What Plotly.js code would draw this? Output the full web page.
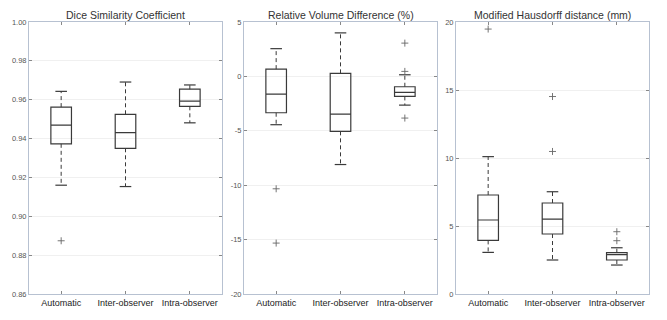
<!DOCTYPE html>
<html><head><meta charset="utf-8">
<script src="https://cdn.plot.ly/plotly-3.0.1.min.js"></script>
<style>html,body{margin:0;padding:0;background:#fff}#chart{width:667px;height:320px}</style>
</head><body><div id="chart"></div>
<script>
const categories = ['Automatic', 'Inter-observer', 'Intra-observer'];
const panelTitles = ['Dice Similarity Coefficient', 'Relative Volume Difference (%)', 'Modified Hausdorff distance (mm)'];

// Dice Similarity Coefficient
const diceLower  = [0.9160, 0.9153, 0.9481];
const diceQ1     = [0.9373, 0.9350, 0.9566];
const diceMedian = [0.9469, 0.9431, 0.9593];
const diceQ3     = [0.9562, 0.9525, 0.9654];
const diceUpper  = [0.9643, 0.9691, 0.9676];
const diceOutliers = [[0.8874], [], []];
const diceTicks = [0.86, 0.88, 0.90, 0.92, 0.94, 0.96, 0.98, 1.00];

// Relative Volume Difference (%)
const rvdLower  = [-4.44, -8.10, -2.64];
const rvdQ1     = [-3.34, -5.05, -1.84];
const rvdMedian = [-1.63, -3.46, -1.47];
const rvdQ3     = [0.67, 0.28, -0.95];
const rvdUpper  = [2.55, 4.00, 0.15];
const rvdOutliers = [[-10.33, -15.32], [], [3.06, 0.46, -3.83]];
const rvdTicks = [-20, -15, -10, -5, 0, 5];
const rvdTickText = ['-20', '-15', '-10', '-5', '0', '5'];

// Modified Hausdorff distance (mm)
const mhdLower  = [3.06, 2.50, 2.13];
const mhdQ1     = [3.94, 4.41, 2.50];
const mhdMedian = [5.44, 5.51, 2.90];
const mhdQ3     = [7.28, 6.69, 3.04];
const mhdUpper  = [10.10, 7.52, 3.40];
const mhdOutliers = [[19.48], [14.52, 10.48], [4.58, 3.92]];
const mhdTicks = [0, 5, 10, 15, 20];

const panels = [
  {lower: diceLower, q1: diceQ1, med: diceMedian, q3: diceQ3, upper: diceUpper, out: diceOutliers,
   range: [0.86, 1.00], tickvals: diceTicks, ticktext: diceTicks.map(v => v.toFixed(2))},
  {lower: rvdLower, q1: rvdQ1, med: rvdMedian, q3: rvdQ3, upper: rvdUpper, out: rvdOutliers,
   range: [-20, 5], tickvals: rvdTicks, ticktext: rvdTickText},
  {lower: mhdLower, q1: mhdQ1, med: mhdMedian, q3: mhdQ3, upper: mhdUpper, out: mhdOutliers,
   range: [0, 20], tickvals: mhdTicks, ticktext: mhdTicks.map(String)}
];

const xDomains = [[29/667, 222/667], [244/667, 437/667], [456/667, 649/667]];
const yDomain = [1 - 294/320, 1 - 22/320];
const lineCol = '#3a3a3a';
const boxWidth = 0.32;
const capHalf = 0.09;
const traces = [];
const layout = {
  width: 667, height: 320,
  margin: {l: 0, r: 0, t: 0, b: 0},
  paper_bgcolor: '#fff', plot_bgcolor: '#fff',
  showlegend: false,
  font: {family: 'Liberation Sans, Arial, sans-serif', color: '#333'},
  annotations: []
};

panels.forEach((p, i) => {
  const sx = i === 0 ? '' : String(i + 1);
  const xa = 'x' + sx, ya = 'y' + sx;
  const xs = categories.map((c, k) => k + 1);
  traces.push({
    type: 'box', xaxis: xa, yaxis: ya,
    x: xs, q1: p.q1, median: p.med, q3: p.q3,
    lowerfence: p.q1, upperfence: p.q3,
    width: boxWidth, boxpoints: false,
    line: {color: lineCol, width: 1.2}, fillcolor: 'rgba(0,0,0,0)',
    hoverinfo: 'skip'
  });
  const wx = [], wy = [];
  xs.forEach((x, k) => {
    wx.push(x, x, null, x, x, null);
    wy.push(p.q3[k], p.upper[k], null, p.q1[k], p.lower[k], null);
  });
  traces.push({type: 'scatter', mode: 'lines', xaxis: xa, yaxis: ya, x: wx, y: wy,
    line: {color: lineCol, width: 1, dash: '4px,3px'}, hoverinfo: 'skip'});
  const cx = [], cy = [];
  xs.forEach((x, k) => {
    cx.push(x - capHalf, x + capHalf, null, x - capHalf, x + capHalf, null);
    cy.push(p.upper[k], p.upper[k], null, p.lower[k], p.lower[k], null);
  });
  traces.push({type: 'scatter', mode: 'lines', xaxis: xa, yaxis: ya, x: cx, y: cy,
    line: {color: lineCol, width: 1.2}, hoverinfo: 'skip'});
  const ox = [], oy = [];
  p.out.forEach((arr, k) => arr.forEach(v => { ox.push(xs[k]); oy.push(v); }));
  traces.push({type: 'scatter', mode: 'markers', xaxis: xa, yaxis: ya, x: ox, y: oy,
    marker: {symbol: 'cross-thin', size: 5, line: {color: '#666', width: 0.9}}, hoverinfo: 'skip'});

  layout['xaxis' + sx] = {
    domain: xDomains[i], anchor: ya, range: [0.5, 3.5],
    tickvals: xs, ticktext: categories,
    ticks: 'inside', ticklen: 3, tickcolor: '#888', tickwidth: 1,
    showline: true, linecolor: '#b7c1d1', linewidth: 1, mirror: 'ticks',
    showgrid: false, zeroline: false,
    tickfont: {size: 9, color: '#222'}
  };
  layout['yaxis' + sx] = {
    domain: yDomain, anchor: xa, range: p.range,
    tickvals: p.tickvals, ticktext: p.ticktext,
    ticks: 'inside', ticklen: 3, tickcolor: '#888', tickwidth: 1,
    showline: true, linecolor: '#b7c1d1', linewidth: 1, mirror: 'ticks',
    showgrid: true, gridcolor: '#f0f0f0', gridwidth: 1, zeroline: false,
    tickfont: {size: 7.5, color: '#555'}
  };
  layout.annotations.push({
    text: panelTitles[i], xref: 'paper', yref: 'paper',
    x: (xDomains[i][0] + xDomains[i][1]) / 2, y: 1 - 15/320,
    xanchor: 'center', yanchor: 'middle', showarrow: false,
    font: {size: 10.5, color: '#333'}
  });
});

Plotly.newPlot('chart', traces, layout, {staticPlot: true, displayModeBar: false});
</script>
</body></html>
